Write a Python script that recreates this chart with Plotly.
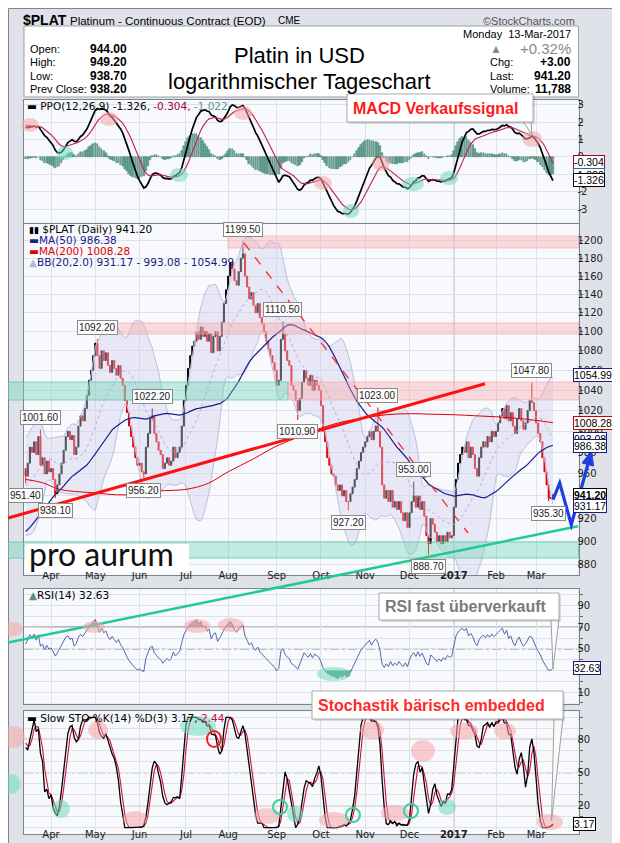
import numpy as np
import pandas as pd
import plotly.graph_objects as go

# ---------------- data ----------------
holidays = ["2016-03-25", "2016-05-30", "2016-07-04", "2016-09-05", "2016-11-24",
            "2016-12-26", "2017-01-02", "2017-01-16", "2017-02-20"]

# closes before the visible window, only used to seed the indicators (Jan 4 - Mar 14, 2016)
warmup_close = [893, 880, 875, 880, 870, 860, 855, 845, 840, 835, 835, 820, 835, 845, 860, 868, 875, 870, 875,
                880, 885, 900, 915, 910, 930, 935, 945, 955, 940, 930, 940, 935, 945, 930, 925, 920, 925, 915, 920,
                935, 955, 970, 980, 985, 975, 965, 970, 975, 965]

close_mar16 = [958, 970, 985, 980, 990, 978, 995, 968, 975, 960, 972, 962]
close_apr16 = [965, 955, 942, 950, 960, 970, 982, 995, 1000, 992, 996, 978, 985, 1005, 1015, 1010, 1022, 1035,
               1050, 1060, 1075]
close_may16 = [1088, 1075, 1062, 1080, 1070, 1078, 1065, 1058, 1070, 1062, 1055, 1065, 1052, 1045, 1030, 1018,
               1005, 995, 985, 975, 968]
close_jun16 = [970, 962, 960, 985, 998, 1012, 1015, 998, 990, 982, 978, 965, 970, 975, 968, 972, 985, 975, 980,
               985, 1005, 1030]
close_jul16 = [1045, 1062, 1075, 1085, 1090, 1100, 1092, 1105, 1095, 1100, 1090, 1098, 1078, 1095, 1100, 1080,
               1095, 1110, 1130, 1145]
close_aug16 = [1160, 1175, 1168, 1155, 1150, 1165, 1180, 1185, 1160, 1148, 1135, 1142, 1128, 1120, 1130, 1115,
               1108, 1100, 1090, 1082, 1075, 1068, 1060]
close_sep16 = [1045, 1050, 1092, 1098, 1080, 1070, 1065, 1045, 1040, 1030, 1020, 1032, 1048, 1060, 1052, 1045,
               1055, 1040, 1050, 1045, 1040]
close_oct16 = [1025, 1000, 990, 975, 968, 960, 958, 950, 945, 950, 940, 945, 935, 935, 942, 948, 955, 965, 972,
               980, 985]
close_nov16 = [990, 995, 1000, 992, 1000, 1005, 1000, 985, 950, 938, 945, 935, 945, 930, 935, 928, 935, 925, 918,
               925, 912]
close_dec16 = [925, 935, 940, 930, 940, 928, 935, 922, 905, 898, 920, 915, 908, 900, 905, 898, 905, 900, 908, 903,
               905]
close_jan17 = [930, 955, 970, 978, 985, 980, 990, 975, 985, 978, 965, 958, 975, 985, 990, 985, 995, 990, 1000, 995]
close_feb17 = [1000, 1008, 1015, 1022, 1012, 1025, 1010, 1018, 1005, 998, 1012, 1022, 1010, 1002, 1008, 1020,
               1030, 1028, 1020]
close_mar17 = [1008, 998, 990, 975, 962, 950, 938, 938.2, 941.2]

# labelled highs / lows (bar index, value, kind)
label_idx = [0, 7, 14, 34, 56, 60, 103, 122, 129, 153, 167, 184, 191, 240, 248]
label_val = [951.40, 1001.60, 938.10, 1092.20, 956.20, 1022.20, 1199.50, 1110.50, 1010.90, 927.20, 1023.00,
             953.00, 888.70, 1047.80, 935.30]
label_kind = ["low", "high", "low", "high", "low", "high", "high", "high", "low", "low", "high", "high", "low",
              "high", "low"]

# MA(200) at sample bars
ma200_idx = [0, 8, 16, 31, 47, 63, 76, 86, 96, 108, 119, 130, 140, 150, 161, 171, 182, 192, 203, 213, 223, 233,
             242, 250]
ma200_val = [955, 952, 946, 943, 941, 944.5, 946, 951, 962, 974, 986, 995, 1003, 1009, 1013, 1016, 1017, 1016.5,
             1016, 1015, 1014, 1012.5, 1010.5, 1008.28]

month_names = ["Apr", "May", "Jun", "Jul", "Aug", "Sep", "Oct", "Nov", "Dec", "<b>2017</b>", "Feb", "Mar"]
price_ticks = list(range(880, 1201, 20))
price_hidden = [940]          # tick labels covered by the value tags
macd_hidden = [-1]
rsi_labels = [10, 50, 70, 90]

# legend / read-out texts as printed on the chart
ppo_vals = ("-1.326", "-0.304", "-1.022")
last_vals = {"price": "941.20", "ma50": "986.38", "ma200": "1008.28",
             "bb": ("931.17", "993.08", "1054.99"), "rsi": "32.63", "sto": ("3.17", "2.44")}
price_tags = [(1054.99, "#1a1a80", False), (1008.28, "#d00000", False), (993.08, "#1a1a80", False),
              (986.38, "#1a1a80", False), (941.20, "#000000", True), (931.17, "#1a1a80", False)]
macd_tags = [(-0.304, "#a3003a"), (-1.022, "#3b62b0"), (-1.326, "#000000")]

# ---------------- derived series ----------------
close = (close_mar16 + close_apr16 + close_may16 + close_jun16 + close_jul16 + close_aug16 + close_sep16 +
         close_oct16 + close_nov16 + close_dec16 + close_jan17 + close_feb17 + close_mar17)
dates = pd.bdate_range("2016-03-15", "2017-03-13")
dates = dates[~dates.isin(pd.to_datetime(holidays))]
N = len(close)
assert len(dates) == N
Wu = len(warmup_close)
allc = pd.Series(warmup_close + close, dtype=float)
allo = allc.shift(1).fillna(allc.iloc[0])
allh = np.maximum(allc, allo)
alll = np.minimum(allc, allo)
for i, v, k in zip(label_idx, label_val, label_kind):
    if k == "high":
        allh.iloc[Wu + i] = max(allh.iloc[Wu + i], v)
    else:
        alll.iloc[Wu + i] = min(alll.iloc[Wu + i], v)

x = np.arange(N)
o = allo.values[Wu:]
c = allc.values[Wu:]
h = allh.values[Wu:]
l = alll.values[Wu:]

ma50 = allc.rolling(50).mean().values[Wu:]
bb_mid = allc.rolling(20).mean()
bb_sd = allc.rolling(20).std(ddof=0)
bb_up = (bb_mid + 2 * bb_sd).values[Wu:]
bb_lo = (bb_mid - 2 * bb_sd).values[Wu:]
bb_mid = bb_mid.values[Wu:]

e12 = allc.ewm(span=12, adjust=False).mean()
e26 = allc.ewm(span=26, adjust=False).mean()
ppo_s = (e12 - e26) / e26 * 100
sig_s = ppo_s.ewm(span=9, adjust=False).mean()
ppo = ppo_s.values[Wu:]
sig = sig_s.values[Wu:]
hist = ppo - sig

d = allc.diff()
ag = d.clip(lower=0).ewm(alpha=1 / 14, adjust=False).mean()
al = (-d.clip(upper=0)).ewm(alpha=1 / 14, adjust=False).mean()
rsi = (100 - 100 / (1 + ag / al)).values[Wu:]

hh = allh.rolling(14).max()
ll = alll.rolling(14).min()
fk = 100 * (allc - ll) / (hh - ll)
sk = fk.rolling(3).mean()
sd = sk.rolling(3).mean()
stok = sk.values[Wu:]
stod = sd.values[Wu:]

month_idx = [i for i in range(1, N) if dates[i].month != dates[i - 1].month]
year_idx = [i for i in month_idx if dates[i].month == 1][0]

# ---------------- geometry ----------------
W, H = 620, 843
def px(v): return v / W
def py(v): return 1 - v / H

X0, X1 = 16, 570.5
xrng = [12 + (X0 - 43) / 2.109, 12 + (X1 - 43) / 2.109]
P = {"macd": (92, 214.5), "price": (215.5, 567), "rsi": (581, 695.5), "sto": (703, 826)}

HDR = "Liberation Sans, Arial, sans-serif"
VER = "DejaVu Sans, Verdana, sans-serif"
GRID = "#dde1ea"
AXL = "#7d838c"

fig = go.Figure()
# PPO panel
fig.add_trace(go.Bar(x=x, y=hist, width=0.75, marker=dict(color="#6aa797", line=dict(color="#3f7d6d", width=0.5)),
                     xaxis="x", yaxis="y"))
fig.add_trace(go.Scatter(x=x, y=ppo, mode="lines", line=dict(color="black", width=1.7), xaxis="x", yaxis="y"))
fig.add_trace(go.Scatter(x=x, y=sig, mode="lines", line=dict(color="#c21d4f", width=1.1), xaxis="x", yaxis="y"))
# price panel
fig.add_trace(go.Scatter(x=x, y=bb_lo, mode="lines", line=dict(color="#bdbde0", width=1), xaxis="x2", yaxis="y2"))
fig.add_trace(go.Scatter(x=x, y=bb_up, mode="lines", line=dict(color="#bdbde0", width=1), fill="tonexty",
                         fillcolor="rgba(205,205,236,0.40)", xaxis="x2", yaxis="y2"))
fig.add_trace(go.Scatter(x=x, y=bb_mid, mode="lines", line=dict(color="#b0b0d8", width=1, dash="dot"),
                         xaxis="x2", yaxis="y2"))
fig.add_trace(go.Scatter(x=ma200_idx, y=ma200_val, mode="lines", line=dict(color="#e00000", width=1, shape="spline"),
                         xaxis="x2", yaxis="y2"))
fig.add_trace(go.Scatter(x=x, y=ma50, mode="lines", line=dict(color="#1c1c8a", width=1.2), xaxis="x2", yaxis="y2"))
fig.add_trace(go.Candlestick(x=x, open=o, high=h, low=l, close=c, whiskerwidth=0,
                             increasing=dict(line=dict(color="#000000", width=1), fillcolor="#000000"),
                             decreasing=dict(line=dict(color="#e30000", width=1), fillcolor="#e30000"),
                             xaxis="x2", yaxis="y2"))
# RSI panel
fig.add_trace(go.Scatter(x=x, y=np.full(N, 70.0), mode="lines", line=dict(width=0), xaxis="x3", yaxis="y3"))
fig.add_trace(go.Scatter(x=x, y=np.maximum(rsi, 70), mode="lines", line=dict(width=0), fill="tonexty",
                         fillcolor="rgba(110,110,110,0.65)", xaxis="x3", yaxis="y3"))
fig.add_trace(go.Scatter(x=x, y=np.full(N, 30.0), mode="lines", line=dict(width=0), xaxis="x3", yaxis="y3"))
fig.add_trace(go.Scatter(x=x, y=np.minimum(rsi, 30), mode="lines", line=dict(width=0), fill="tonexty",
                         fillcolor="rgba(40,120,100,0.75)", xaxis="x3", yaxis="y3"))
fig.add_trace(go.Scatter(x=x, y=rsi, mode="lines", line=dict(color="#5766a8", width=1), xaxis="x3", yaxis="y3"))
# Stochastics panel
fig.add_trace(go.Scatter(x=x, y=stod, mode="lines", line=dict(color="#d0103a", width=1.1), xaxis="x4", yaxis="y4"))
fig.add_trace(go.Scatter(x=x, y=stok, mode="lines", line=dict(color="#000000", width=1.3), xaxis="x4", yaxis="y4"))

# ---------------- axes ----------------
def xax(anchor, labels):
    return dict(domain=[px(X0), px(X1)], range=xrng, tickvals=month_idx, ticktext=month_names, anchor=anchor,
                showticklabels=labels, ticks="", ticklabelstandoff=-9, showgrid=True, gridcolor=GRID, gridwidth=1,
                zeroline=False, showline=True, mirror=True, linecolor=AXL, linewidth=1,
                tickfont=dict(family=VER, size=10, color="#222"), rangeslider=dict(visible=False),
                fixedrange=True)

def yax(anchor, t, b, rng, tv, tt, typ="linear"):
    return dict(domain=[py(b), py(t)], range=rng, type=typ, side="right", tickvals=tv, ticktext=tt, anchor=anchor,
                ticks="outside", ticklen=3, tickcolor="#666", ticklabelstandoff=-7, showgrid=True, gridcolor=GRID,
                zeroline=False, showline=True, mirror=True, linecolor=AXL, linewidth=1,
                tickfont=dict(family=VER, size=10, color="#222"), fixedrange=True)

ptop, pbot = P["price"]
p_hi = 1000 * 10 ** ((423.3 - ptop) / 2407)
p_lo = 1000 * 10 ** ((423.3 - pbot) / 2407)
rsi_tv = list(range(0, 101, 10))
rsi_tt = [str(v) if v in rsi_labels else "" for v in rsi_tv]
sto_tv = list(range(0, 101, 10))
sto_tt = ["" if v not in (20, 50, 80) else str(v) for v in sto_tv]
macd_tv = list(range(-3, 4))
macd_tt = ["" if v in macd_hidden else str(v) for v in macd_tv]
price_tt = ["" if v in price_hidden else str(v) for v in price_ticks]

fig.update_layout(
    width=W, height=H, margin=dict(l=0, r=0, t=0, b=0), showlegend=False,
    paper_bgcolor="#dfe2e9", plot_bgcolor="#f8f9fd", bargap=0,
    xaxis=xax("y", False), xaxis2=xax("y2", True), xaxis3=xax("y3", False), xaxis4=xax("y4", True),
    yaxis=yax("x", *P["macd"], [-3.76, 3.27], macd_tv, macd_tt),
    yaxis2=yax("x2", ptop, pbot, [np.log10(p_lo), np.log10(p_hi)], price_ticks, price_tt, "log"),
    yaxis3=yax("x3", *P["rsi"], [-0.5, 105.3], rsi_tv, rsi_tt),
    yaxis4=yax("x4", *P["sto"], [-5.7, 105.8], sto_tv, sto_tt),
)

shapes = []
ann = []

def rect(x0, y0, x1, y1, fill=None, line=None, lw=1, layer="above", dash=None):
    shapes.append(dict(type="rect", xref="paper", yref="paper", x0=px(x0), x1=px(x1), y0=py(y1), y1=py(y0),
                       fillcolor=fill or "rgba(0,0,0,0)", layer=layer,
                       line=dict(color=line or "rgba(0,0,0,0)", width=lw if line else 0, dash=dash)))

def ell(cx, cy, rx, ry, fill=None, line=None, lw=2):
    shapes.append(dict(type="circle", xref="paper", yref="paper", x0=px(cx - rx), x1=px(cx + rx),
                       y0=py(cy + ry), y1=py(cy - ry), fillcolor=fill or "rgba(0,0,0,0)", layer="above",
                       line=dict(color=line or "rgba(0,0,0,0)", width=lw if line else 0)))

def seg(pts, color, w, dash=None, fill=None, close_path=False):
    d = "M " + " L ".join(f"{px(a):.5f},{py(b):.5f}" for a, b in pts) + (" Z" if close_path else "")
    shapes.append(dict(type="path", xref="paper", yref="paper", path=d, layer="above",
                       fillcolor=fill or "rgba(0,0,0,0)", line=dict(color=color, width=w, dash=dash)))

def T(text, x0, y0, size=11, color="#000", family=VER, anchor="left", bold=False):
    if bold:
        text = f"<b>{text}</b>"
    ann.append(dict(text=text, x=px(x0), y=py(y0), xref="paper", yref="paper", xanchor=anchor,
                    yanchor="middle", showarrow=False, font=dict(size=size, color=color, family=family)))

# indicator reference lines and year line
for yref, v, dash in [("y3", 70, None), ("y3", 30, None), ("y3", 50, "dashdot"),
                      ("y4", 80, None), ("y4", 20, None), ("y4", 50, "dashdot")]:
    shapes.append(dict(type="line", xref="paper", yref=yref, x0=px(X0), x1=px(X1), y0=v, y1=v, layer="below",
                       line=dict(color="#8a8a8a", width=1.2, dash=dash)))
for n in ["", "2", "3", "4"]:
    shapes.append(dict(type="line", xref="x" + n, yref="y" + n + " domain", x0=year_idx, x1=year_idx, y0=0, y1=1,
                       layer="below", line=dict(color="#a4a9b2", width=1.2)))

# header
rect(0.5, 0.5, 619.5, 842.5, line="#7f8590")
rect(16, 18, 570.5, 89, fill="#ffffff", line="#9aa0aa", layer="below")
T("$PLAT", 13, 12, 14, bold=True, family=HDR)
T("Platinum - Continuous Contract (EOD)", 60, 12.5, 11.5, family=HDR)
T("CME", 268, 12.5, 10, family=HDR)
T("©StockCharts.com", 569, 12.5, 11, "#555", HDR, "right")
for lab, val, yy in [("Open:", "944.00", 41), ("High:", "949.20", 54.5), ("Low:", "938.70", 68),
                     ("Prev Close:", "938.20", 81.5)]:
    T(lab, 20, yy, 11, family=HDR)
    T(val, 121, yy, 12, family=HDR, anchor="right", bold=True)
T("Monday  13-Mar-2017", 565, 26, 11, family=HDR, anchor="right")
T("▲", 488, 41, 12, "#8a8a8a", HDR, "center")
T("+0.32%", 565, 41, 15, "#8a8a8a", HDR, "right")
for lab, val, yy in [("Chg:", "+3.00", 54.5), ("Last:", "941.20", 68), ("Volume:", "11,788", 81.5)]:
    T(lab, 480, yy, 11, family=HDR)
    T(val, 565, yy, 12, family=HDR, anchor="right", bold=True)
T("Platin in USD", 291, 47, 22, family=HDR, anchor="center")
T("logarithmischer Tageschart", 291, 73, 22, family=HDR, anchor="center")

# panel legends
T(f"<b>▬</b> PPO(12,26,9) {ppo_vals[0]}, <span style='color:#a3003a'>{ppo_vals[1]},</span> "
  f"<span style='color:#5a9a8a'>{ppo_vals[2]}</span>", 17, 98, 10.5)
T(f"<span style='font-size:9px'>▮▮</span> $PLAT (Daily) {last_vals['price']}", 19, 221, 10.5)
T(f"<span style='color:#1c1c8a'><b>▬</b>MA(50) {last_vals['ma50']}</span>", 19, 232, 10.5)
T(f"<span style='color:#e00000'><b>▬</b>MA(200) {last_vals['ma200']}</span>", 19, 243, 10.5)
T(f"<span style='color:#b8b8dc'>▲</span><span style='color:#1a1a80'>BB(20,2.0) {last_vals['bb'][0]} - "
  f"{last_vals['bb'][1]} - {last_vals['bb'][2]}</span>", 19, 254, 10.5)
T(f"<span style='color:#5c8c80'>▲</span>RSI(14) {last_vals['rsi']}", 19, 587, 10.5)
T(f"<b>▬</b> Slow STO %K(14) %D(3) {last_vals['sto'][0]}, <span style='color:#c0103a'>{last_vals['sto'][1]}</span>",
  17, 710, 10.5)

# support / resistance zones
rect(220, 228, 570.5, 240, fill="rgba(250,170,170,0.40)", line="rgba(245,160,160,0.6)")
rect(83, 315, 570.5, 326, fill="rgba(250,170,170,0.40)", line="rgba(245,160,160,0.6)")
rect(0, 374, 280, 392, fill="rgba(110,215,180,0.40)", line="rgba(80,200,160,0.7)")
rect(280, 374, 570.5, 392, fill="rgba(250,170,170,0.40)", line="rgba(245,160,160,0.6)")
rect(0, 534, 570.5, 550, fill="rgba(110,215,180,0.40)", line="rgba(80,200,160,0.7)")
# logo
rect(17, 536, 181, 564, fill="#ffffff")
T("pro aurum", 19, 545, 32, "#111111", "Lato, Open Sans, sans-serif")

# trend lines
seg([(0, 510), (477, 375.7)], "#ff1010", 3)
seg([(236, 235), (460, 525)], "#ff2a2a", 1.3, dash="dash")
seg([(0, 634.5), (570, 518.3)], "#20c997", 2.5)
# blue projection arrow
seg([(545, 491.7), (551.7, 475), (563.3, 516.7), (579.8, 456.5)], "#1f3de0", 3.2)
seg([(583.5, 443), (585.6, 458.1), (574.0, 454.9)], "#1f3de0", 1, fill="#1f3de0", close_path=True)

# highlight ellipses
PINK = "rgba(245,165,165,0.55)"
TEAL = "rgba(110,220,185,0.55)"
for cx, cy, rx, ry in [(22, 117, 9, 7), (101, 111, 9, 7), (235, 105, 9, 7), (315, 175, 9, 7), (373, 155, 9, 8),
                       (524, 131, 10, 8)]:
    ell(cx, cy, rx, ry, PINK)
for cx, cy, rx, ry in [(57, 145, 8, 7), (171, 167, 9, 7), (343, 203, 8, 7), (405, 176, 11, 7), (441, 170, 9, 7)]:
    ell(cx, cy, rx, ry, TEAL)
for cx, cy, rx, ry in [(5, 621, 10, 7), (86, 619, 11, 6), (189, 618, 13, 7), (223, 617, 13, 7)]:
    ell(cx, cy, rx, ry, PINK)
ell(326, 666, 17, 7, TEAL)
for cx, cy, rx, ry in [(5, 729, 12, 11), (90, 722, 10, 9), (127, 811, 12, 8), (259, 808, 13, 8), (326, 812, 15, 8),
                       (364, 722, 12, 9), (387, 805, 14, 8), (415, 743, 12, 11), (456, 723, 14, 8),
                       (497, 723, 11, 8), (542, 814, 13, 8)]:
    ell(cx, cy, rx, ry, PINK)
for cx, cy, rx, ry in [(3, 776, 10, 10), (53, 801, 9, 9), (190, 718, 18, 10), (287, 806, 8, 8), (439, 799, 9, 8)]:
    ell(cx, cy, rx, ry, TEAL)
for cx, cy in [(272, 799), (345, 807), (403, 803)]:
    ell(cx, cy, 7, 7, None, "#3cd0a0", 2)
ell(206, 731, 7, 8, None, "#ee2020", 2)

# callout boxes
def callout(x0, y0, x1, y1, text, color, tip, base):
    seg([(base[0], y1 - 1), tip, (base[1], y1 - 1)], "#a0a0a0", 1, fill="rgba(250,250,250,0.9)")
    rect(x0 + 2, y0 + 2, x1 + 2, y1 + 2, fill="rgba(0,0,0,0.12)")
    rect(x0, y0, x1, y1, fill="#ffffff", line="#a8a8a8")
    T(f"<b>{text}</b>", x0 + 4, (y0 + y1) / 2, 16, color, HDR)

callout(339, 86, 525, 114, "MACD Verkaufssignal", "#ff1a1a", (524, 127), (515, 523))
callout(371, 585, 551, 612, "RSI fast überverkauft", "#7b7b7b", (545, 661), (543, 551))
callout(304, 683, 555, 711, "Stochastik bärisch embedded", "#ff2a2a", (543.5, 813), (546, 555))

# price high/low labels
for i, v, k in zip(label_idx, label_val, label_kind):
    ann.append(dict(x=i, y=np.log10(v), xref="x2", yref="y2", text=f"{v:.2f}", showarrow=False,
                    yshift=12 if k == "high" else -12, font=dict(size=10, family=HDR, color="#222"),
                    bgcolor="rgba(255,255,255,0.9)", bordercolor="#8a8a8a", borderwidth=1, borderpad=1))

# right-hand value tags
def tag(v, yref, color, bold=False, yv=None, txt=None):
    t = txt if txt is not None else f"{v:.2f}"
    ann.append(dict(x=px(565), y=yv if yv is not None else v, xref="paper", yref=yref, xanchor="left",
                    yanchor="middle", showarrow=False, text=(f"<b>{t}</b>" if bold else t),
                    font=dict(size=10.5, family=HDR, color="#000"), bgcolor="#ffffff", bordercolor=color,
                    borderwidth=1, borderpad=0))

for v, col in macd_tags:
    tag(v, "y", col, txt=f"{v:.3f}")
for v, col, b in price_tags:
    tag(v, "y2", col, b, np.log10(v))
tag(float(last_vals["rsi"]), "y3", "#1a1a80")
tag(float(last_vals["sto"][0]), "y4", "#000000")

fig.update_layout(shapes=shapes, annotations=ann)
fig.write_html("out.html")
